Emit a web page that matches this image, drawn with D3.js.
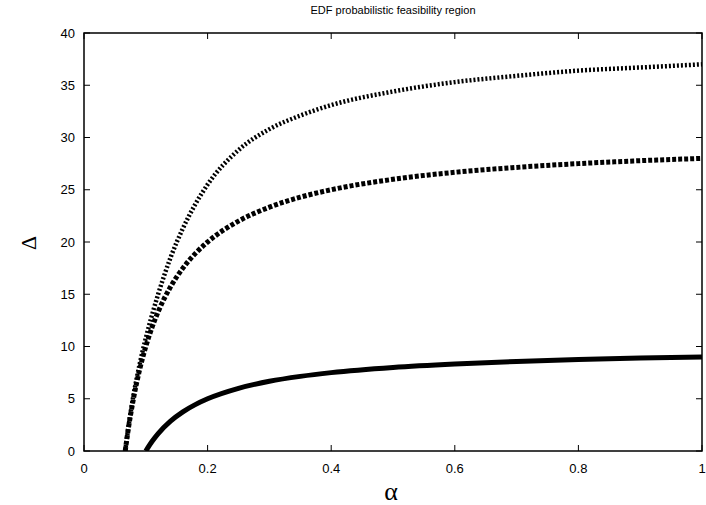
<!DOCTYPE html>
<html>
<head>
<meta charset="utf-8">
<script src="https://cdn.jsdelivr.net/npm/d3@7"></script>
<style>
  body { margin: 0; background: #fff; }
  text { font-family: 'Liberation Sans', Arial, sans-serif; fill: #000; }
</style>
</head>
<body>
<div id="chart"></div>
<script>
// values
const alphaLow = [0.1, 0.11, 0.12, 0.14, 0.16, 0.18, 0.2, 0.25, 0.3, 0.35, 0.4, 0.5, 0.6, 0.7, 0.8, 0.9, 1.0];
const deltaLow = [0, 0.91, 1.67, 2.86, 3.75, 4.44, 5, 6, 6.67, 7.14, 7.5, 8, 8.33, 8.57, 8.75, 8.89, 9];

const alphaMid = [0.0667, 0.07, 0.08, 0.09, 0.1, 0.11, 0.12, 0.14, 0.16, 0.18, 0.2, 0.25, 0.3, 0.35, 0.4, 0.5, 0.6, 0.7, 0.8, 0.9, 1.0];
const deltaMid = [0, 1.43, 5, 7.78, 10, 11.82, 13.33, 15.71, 17.5, 18.89, 20, 22, 23.33, 24.29, 25, 26, 26.67, 27.14, 27.5, 27.78, 28];

const alphaHigh = [0.0667, 0.07, 0.08, 0.09, 0.1, 0.11, 0.12, 0.14, 0.16, 0.18, 0.2, 0.25, 0.3, 0.35, 0.4, 0.5, 0.6, 0.7, 0.8, 0.9, 1.0];
const deltaHigh = [0, 1.5, 5.3, 8.3, 10.8, 13.0, 15.0, 18.5, 21.3, 23.6, 25.5, 28.8, 30.8, 32.1, 33.1, 34.4, 35.3, 35.9, 36.4, 36.7, 37];

const xTicks = [0, 0.2, 0.4, 0.6, 0.8, 1];
const yTicks = [0, 5, 10, 15, 20, 25, 30, 35, 40];

const width = 706, height = 505;
const margin = { top: 33, right: 4, bottom: 54, left: 84 };
const w = width - margin.left - margin.right;
const h = height - margin.top - margin.bottom;

const svg = d3.select('#chart').append('svg')
  .attr('width', width)
  .attr('height', height);

const g = svg.append('g')
  .attr('transform', `translate(${margin.left},${margin.top})`);

const x = d3.scaleLinear().domain([0, 1]).range([0, w]);
const y = d3.scaleLinear().domain([0, 40]).range([h, 0]);

// ticks, inward and mirrored
const tickLen = 6;
xTicks.forEach((t) => {
  g.append('line').attr('x1', x(t)).attr('x2', x(t)).attr('y1', h).attr('y2', h - tickLen)
    .attr('stroke', '#000').attr('stroke-width', 1);
  g.append('line').attr('x1', x(t)).attr('x2', x(t)).attr('y1', 0).attr('y2', tickLen)
    .attr('stroke', '#000').attr('stroke-width', 1);
  g.append('text').attr('x', x(t)).attr('y', h + 22)
    .attr('text-anchor', 'middle').attr('font-size', 13).text(t);
});
yTicks.forEach((t) => {
  g.append('line').attr('x1', 0).attr('x2', tickLen).attr('y1', y(t)).attr('y2', y(t))
    .attr('stroke', '#000').attr('stroke-width', 1);
  g.append('line').attr('x1', w).attr('x2', w - tickLen).attr('y1', y(t)).attr('y2', y(t))
    .attr('stroke', '#000').attr('stroke-width', 1);
  g.append('text').attr('x', -9).attr('y', y(t)).attr('dy', '0.35em')
    .attr('text-anchor', 'end').attr('font-size', 13).text(t);
});

svg.append('clipPath').attr('id', 'clip')
  .append('rect').attr('width', w).attr('height', h);

const line = d3.line()
  .x((d) => x(d[0]))
  .y((d) => y(d[1]))
  .curve(d3.curveMonotoneX);

const series = [
  { a: alphaHigh, d: deltaHigh, dash: '2,2', width: 4.5 },
  { a: alphaMid, d: deltaMid, dash: '4,2', width: 5 },
  { a: alphaLow, d: deltaLow, dash: null, width: 5 },
];

series.forEach((s) => {
  g.append('path')
    .datum(d3.zip(s.a, s.d))
    .attr('clip-path', 'url(#clip)')
    .attr('fill', 'none')
    .attr('stroke', '#000')
    .attr('stroke-width', s.width)
    .attr('stroke-dasharray', s.dash)
    .attr('d', line);
});

g.append('rect')
  .attr('width', w).attr('height', h)
  .attr('fill', 'none').attr('stroke', '#000').attr('stroke-width', 1.5);

svg.append('text')
  .attr('x', margin.left + w / 2).attr('y', 14)
  .attr('text-anchor', 'middle').attr('font-size', 11)
  .text('EDF probabilistic feasibility region');

svg.append('text')
  .attr('x', margin.left + w / 2 - 2).attr('y', 500)
  .attr('text-anchor', 'middle').attr('font-size', 26)
  .style('font-family', "'Liberation Serif', serif")
  .text('α');

svg.append('text')
  .attr('transform', 'translate(36,243) rotate(-90)')
  .attr('text-anchor', 'middle').attr('font-size', 22)
  .style('font-family', "'Liberation Serif', serif")
  .text('Δ');
</script>
</body>
</html>
